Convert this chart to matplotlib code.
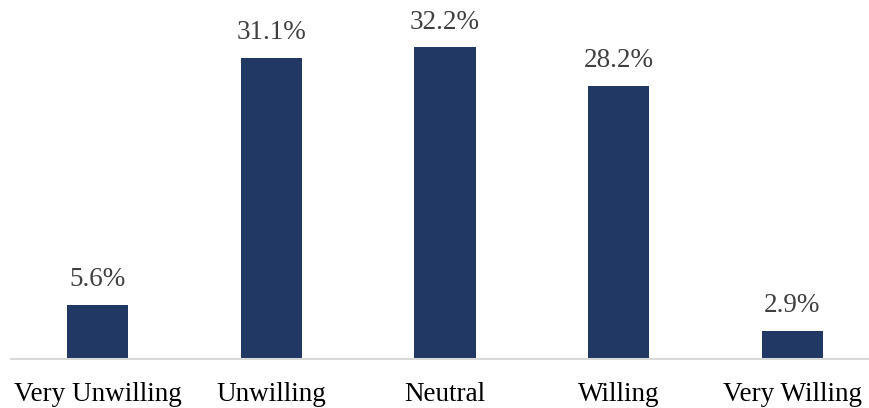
import matplotlib.pyplot as plt
import numpy as np

categories = ["Very Unwilling", "Unwilling", "Neutral", "Willing", "Very Willing"]
shares = [5.6, 31.1, 32.2, 28.2, 2.9]

plt.rcParams['font.family'] = ['Liberation Serif', 'DejaVu Serif']

W, H = 869, 408
fig = plt.figure(figsize=(W / 100, H / 100), dpi=100)
# axes run slightly past the right edge so bar spacing stays even
ax = fig.add_axes([11 / W, 49 / H, 868 / W, 339 / H])

x = np.arange(len(categories))
bars = ax.bar(x, shares, width=0.352, color="#213864")

for rect, val in zip(bars, shares):
    ax.annotate(f"{val:.1f}%", (rect.get_x() + rect.get_width() / 2, rect.get_height()),
                xytext=(0, 9), textcoords="offset points",
                ha="center", va="bottom", fontsize=19.5, color="#404040")

ax.set_xlim(-0.5, len(categories) - 0.5)
ax.set_ylim(0, 35)
ax.set_xticks(x)
ax.set_xticklabels(categories, fontsize=19.5, color="black")
ax.tick_params(axis="x", length=0, pad=16.5)
ax.set_yticks([])
for side in ("top", "right", "left"):
    ax.spines[side].set_visible(False)
ax.spines["bottom"].set_color("#d9d9d9")
ax.spines["bottom"].set_linewidth(1.5)

fig.savefig("out.png", dpi=100)
